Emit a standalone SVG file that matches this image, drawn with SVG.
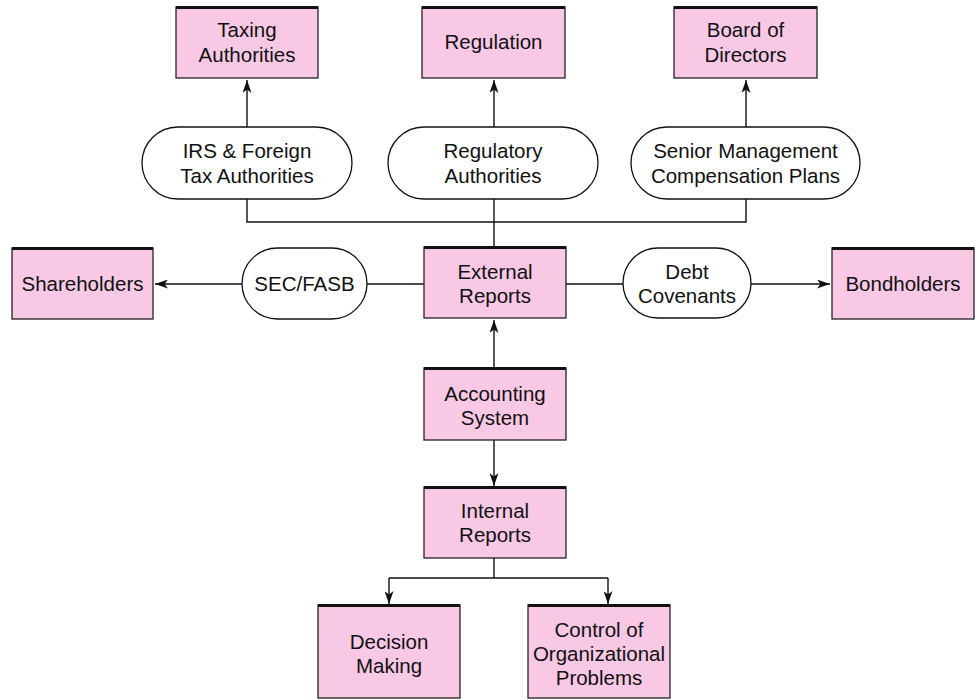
<svg xmlns="http://www.w3.org/2000/svg" width="975" height="700" viewBox="0 0 975 700">
  <style>
    .box { fill: #F8C8E5; stroke: #222; stroke-width: 1.3; }
    .top { stroke: #111; stroke-width: 3; }
    .oval { fill: #fff; stroke: #111; stroke-width: 1.3; }
    .lbl { font-family: "Liberation Sans", Arial, sans-serif; font-size: 20.5px; fill: #111; text-anchor: middle; }
    .wire { fill: none; stroke: #111; stroke-width: 1.4; }
  </style>
  <defs>
    <marker id="arrow" viewBox="0 0 13 9" refX="13" refY="4.5" markerWidth="13" markerHeight="9" markerUnits="userSpaceOnUse" orient="auto">
      <path d="M0,0 L13,4.5 L0,9 L3.5,4.5 Z" fill="#111"/>
    </marker>
  </defs>

  <rect width="975" height="700" fill="#fff"/>

  <!-- connectors -->
  <g id="connectors" class="wire">
    <!-- top row: ovals up to boxes -->
    <line x1="247" y1="127" x2="247" y2="80" marker-end="url(#arrow)"/>
    <line x1="494" y1="127" x2="494" y2="80" marker-end="url(#arrow)"/>
    <line x1="746" y1="127" x2="746" y2="80" marker-end="url(#arrow)"/>
    <!-- ovals down to the shared bus and External Reports -->
    <polyline points="247,199 247,222 746,222 746,199"/>
    <line x1="494" y1="199" x2="494" y2="248"/>
    <!-- middle row -->
    <line x1="242" y1="284" x2="155" y2="284" marker-end="url(#arrow)"/>
    <line x1="367" y1="284" x2="424" y2="284"/>
    <line x1="566" y1="284" x2="623" y2="284"/>
    <line x1="751" y1="284" x2="830" y2="284" marker-end="url(#arrow)"/>
    <!-- accounting system -->
    <line x1="494" y1="368" x2="494" y2="320" marker-end="url(#arrow)"/>
    <line x1="494" y1="440" x2="494" y2="486" marker-end="url(#arrow)"/>
    <!-- internal reports split -->
    <line x1="494" y1="558" x2="494" y2="578"/>
    <line x1="389" y1="578" x2="608" y2="578"/>
    <line x1="389" y1="578" x2="389" y2="604" marker-end="url(#arrow)"/>
    <line x1="608" y1="578" x2="608" y2="604" marker-end="url(#arrow)"/>
  </g>

  <!-- top row boxes -->
  <g id="taxing">
    <rect class="box" x="176" y="7" width="142" height="71"/>
    <line class="top" x1="176" y1="7.5" x2="318" y2="7.5"/>
    <text class="lbl" x="247" y="37">Taxing</text>
    <text class="lbl" x="247" y="62">Authorities</text>
  </g>
  <g id="regulation">
    <rect class="box" x="422" y="7" width="143" height="71"/>
    <line class="top" x1="422" y1="7.5" x2="565" y2="7.5"/>
    <text class="lbl" x="493.5" y="49">Regulation</text>
  </g>
  <g id="board">
    <rect class="box" x="674" y="7" width="143" height="71"/>
    <line class="top" x1="674" y1="7.5" x2="817" y2="7.5"/>
    <text class="lbl" x="745.5" y="37">Board of</text>
    <text class="lbl" x="745.5" y="62">Directors</text>
  </g>

  <!-- top row ovals -->
  <g id="irs">
    <rect class="oval" x="142" y="127" width="210" height="72" rx="36"/>
    <text class="lbl" x="247" y="158">IRS &amp; Foreign</text>
    <text class="lbl" x="247" y="183">Tax Authorities</text>
  </g>
  <g id="regulatory">
    <rect class="oval" x="388" y="127" width="210" height="72" rx="36"/>
    <text class="lbl" x="493" y="158">Regulatory</text>
    <text class="lbl" x="493" y="183">Authorities</text>
  </g>
  <g id="senior">
    <rect class="oval" x="631" y="127" width="229" height="72" rx="36"/>
    <text class="lbl" x="745.5" y="158">Senior Management</text>
    <text class="lbl" x="745.5" y="183">Compensation Plans</text>
  </g>

  <!-- middle row -->
  <g id="shareholders">
    <rect class="box" x="12" y="248" width="141" height="71"/>
    <line class="top" x1="12" y1="248.5" x2="153" y2="248.5"/>
    <text class="lbl" x="82.5" y="291">Shareholders</text>
  </g>
  <g id="secfasb">
    <rect class="oval" x="242" y="248" width="125" height="71" rx="35.5"/>
    <text class="lbl" x="304.5" y="291">SEC/FASB</text>
  </g>
  <g id="external">
    <rect class="box" x="424" y="247" width="142" height="71"/>
    <line class="top" x1="424" y1="247.5" x2="566" y2="247.5"/>
    <text class="lbl" x="495" y="279">External</text>
    <text class="lbl" x="495" y="303">Reports</text>
  </g>
  <g id="debt">
    <rect class="oval" x="623" y="248" width="128" height="70" rx="35"/>
    <text class="lbl" x="687" y="279">Debt</text>
    <text class="lbl" x="687" y="303">Covenants</text>
  </g>
  <g id="bondholders">
    <rect class="box" x="832" y="248" width="142" height="71"/>
    <line class="top" x1="832" y1="248.5" x2="974" y2="248.5"/>
    <text class="lbl" x="903" y="291">Bondholders</text>
  </g>

  <!-- lower column -->
  <g id="accounting">
    <rect class="box" x="424" y="368" width="142" height="72"/>
    <line class="top" x1="424" y1="368.5" x2="566" y2="368.5"/>
    <text class="lbl" x="495" y="401">Accounting</text>
    <text class="lbl" x="495" y="425">System</text>
  </g>
  <g id="internal">
    <rect class="box" x="424" y="487" width="142" height="71"/>
    <line class="top" x1="424" y1="487.5" x2="566" y2="487.5"/>
    <text class="lbl" x="495" y="518">Internal</text>
    <text class="lbl" x="495" y="542">Reports</text>
  </g>
  <g id="decision">
    <rect class="box" x="318" y="605" width="142" height="93"/>
    <line class="top" x1="318" y1="605.5" x2="460" y2="605.5"/>
    <text class="lbl" x="389" y="649">Decision</text>
    <text class="lbl" x="389" y="673">Making</text>
  </g>
  <g id="control">
    <rect class="box" x="528" y="605" width="142" height="93"/>
    <line class="top" x1="528" y1="605.5" x2="670" y2="605.5"/>
    <text class="lbl" x="599" y="637">Control of</text>
    <text class="lbl" x="599" y="661">Organizational</text>
    <text class="lbl" x="599" y="685">Problems</text>
  </g>
</svg>
